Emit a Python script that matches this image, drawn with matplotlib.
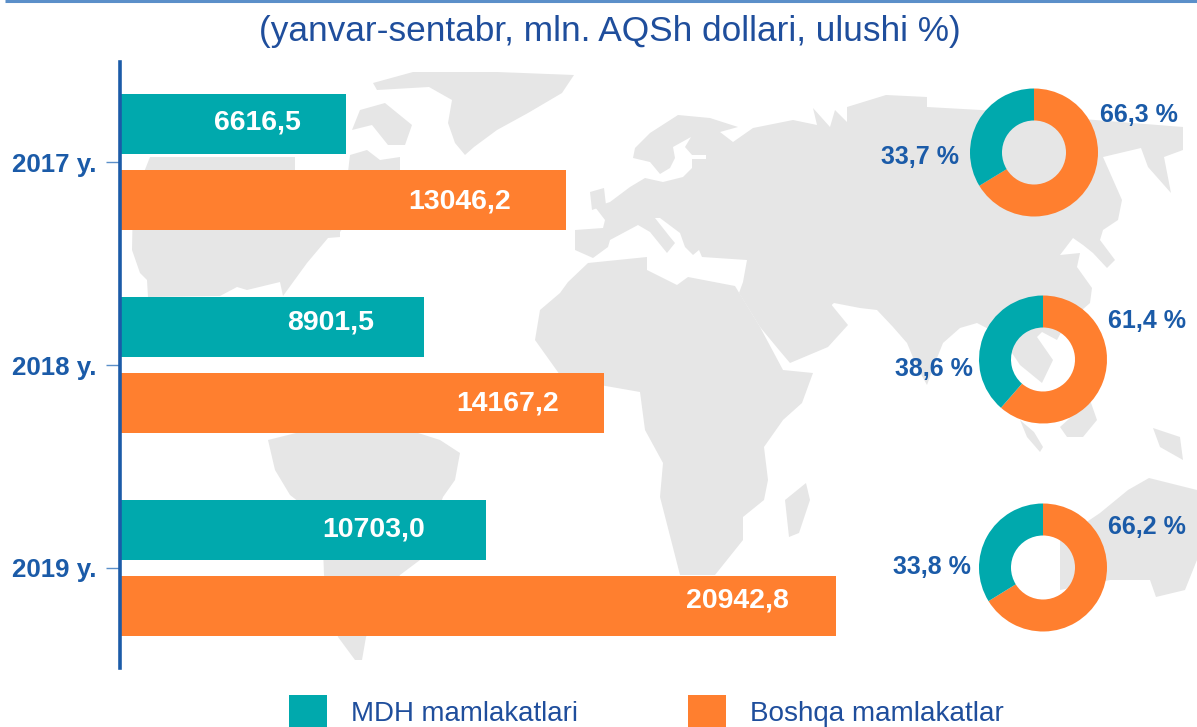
import matplotlib
matplotlib.use("Agg")
import matplotlib.pyplot as plt
from matplotlib.patches import Polygon, Rectangle

plt.rcParams['font.family'] = ['Liberation Sans', 'DejaVu Sans']

W, H = 1197, 727

# data
years = ["2017 y.", "2018 y.", "2019 y."]
cis_values = [6616.5, 8901.5, 10703.0]
other_values = [13046.2, 14167.2, 20942.8]
cis_labels = ["6616,5", "8901,5", "10703,0"]
other_labels = ["13046,2", "14167,2", "20942,8"]
cis_shares = [33.7, 38.6, 33.8]
other_shares = [66.3, 61.4, 66.2]
cis_share_labels = ["33,7 %", "38,6 %", "33,8 %"]
other_share_labels = ["66,3 %", "61,4 %", "66,2 %"]

TEAL = "#00A9AD"
ORANGE = "#FF7F2F"
BLUE = "#1B5BA8"
TITLE_BLUE = "#1F4E9C"
GRAY = "#E6E6E6"

# background map outlines, in picture pixels (decoration only)
world_map = [
    # Greenland
    [(373, 83), (413, 72), (497, 72), (574, 75), (562, 93), (528, 113), (497, 130), (474, 147),
     (465, 155), (455, 143), (448, 123), (452, 100), (429, 87), (377, 90)],
    # Baffin
    [(360, 110), (385, 103), (412, 125), (405, 145), (388, 145), (372, 125), (352, 130)],
    # North America
    [(150, 157), (295, 157), (295, 172), (348, 172), (350, 155), (367, 150), (380, 160), (400, 157),
     (400, 172), (360, 205), (340, 232), (340, 237), (328, 238), (307, 263), (283, 296), (280, 282),
     (247, 290), (237, 287), (220, 296), (148, 297), (147, 280), (140, 273), (132, 250), (133, 200)],
    # South America
    [(268, 440), (300, 432), (415, 432), (440, 440), (460, 453), (455, 480), (443, 497), (420, 560),
     (400, 575), (366, 637), (362, 660), (355, 660), (338, 637), (324, 575), (322, 520), (290, 495),
     (275, 470)],
    # Africa
    [(588, 263), (647, 257), (647, 270), (677, 285), (688, 277), (735, 286), (760, 327), (783, 370),
     (813, 373), (802, 403), (783, 420), (764, 447), (768, 480), (764, 500), (743, 517), (743, 540),
     (715, 575), (680, 575), (660, 497), (663, 463), (645, 430), (640, 392), (600, 385), (560, 375),
     (535, 340), (540, 310), (560, 293), (568, 282)],
    # Madagascar
    [(789, 537), (785, 500), (806, 483), (810, 500), (799, 533)],
    # Eurasia
    [(575, 230), (603, 228), (605, 220), (595, 207), (610, 202), (630, 187), (645, 178), (663, 182),
     (683, 177), (692, 168), (692, 159), (706, 159), (706, 155), (692, 155), (685, 147), (691, 137),
     (673, 147), (675, 158), (670, 168), (660, 174), (650, 162), (633, 158), (635, 148), (650, 133),
     (678, 115), (710, 118), (738, 127), (720, 132), (733, 142), (753, 128), (793, 120), (817, 125),
     (813, 108), (830, 127), (835, 110), (847, 122), (847, 107), (886, 95), (927, 97), (927, 107),
     (981, 110), (1095, 120), (1183, 127), (1183, 150), (1164, 157), (1171, 193), (1148, 167),
     (1141, 148), (1103, 157), (1122, 200), (1118, 220), (1103, 230), (1100, 240), (1115, 260),
     (1107, 268), (1093, 253), (1083, 245), (1073, 238), (1060, 255), (1080, 253), (1077, 267),
     (1092, 288), (1090, 303), (1065, 325), (1057, 340), (1042, 332), (1037, 337), (1053, 360),
     (1042, 383), (1020, 365), (1000, 335), (977, 323), (960, 328), (943, 343), (935, 363), (927, 385),
     (917, 367), (907, 343), (893, 327), (877, 310), (860, 308), (834, 303), (817, 317), (809, 310),
     (802, 287), (830, 303), (848, 325), (828, 347), (790, 363), (779, 350), (760, 327), (739, 293),
     (743, 282), (747, 260), (702, 257), (699, 250), (693, 255), (685, 247), (680, 233), (660, 218),
     (655, 218), (670, 237), (675, 243), (667, 253), (650, 232), (638, 225), (610, 240), (608, 247),
     (593, 258), (575, 250)],
    # Britain
    [(590, 192), (604, 188), (606, 205), (592, 210)],
    # Sumatra and islands
    [(1020, 420), (1034, 432), (1043, 447), (1040, 452), (1027, 437)],
    [(1060, 427), (1090, 400), (1097, 420), (1083, 437), (1067, 437)],
    [(1153, 428), (1180, 437), (1183, 460), (1160, 447)],
    # Australia
    [(1060, 540), (1100, 513), (1128, 490), (1149, 478), (1197, 490), (1197, 560), (1185, 590),
     (1156, 597), (1150, 580), (1110, 580), (1060, 590)],
]

bar_offsets_cis = [(-45, 2), (-50, 5), (-61, 1)]
bar_offsets_other = [(-55, -2), (-45, -1), (-47, 5)]
donut_centers = [(1034, 152.5), (1043, 359.5), (1043, 567.5)]
other_label_pos = [(1139, 115), (1147, 321), (1147, 527)]
cis_label_pos = [(920, 157), (934, 369), (932, 567)]
DONUT_R = 64

fig = plt.figure(figsize=(W / 100, H / 100), dpi=100, facecolor="white")

# Map and decoration layer, in pixels ---------------------------------
ax_bg = fig.add_axes([0, 0, 1, 1], zorder=0)
ax_bg.set_xlim(0, W)
ax_bg.set_ylim(H, 0)
ax_bg.axis("off")
for outline in world_map:
    ax_bg.add_patch(Polygon(outline, closed=True, facecolor=GRAY, edgecolor="none"))
ax_bg.plot([5, W], [1, 1], color="#5B8FC9", lw=2.2, solid_capstyle="butt")

# Bars ----------------------------------------------------------------
axis_left, axis_top, axis_bottom = 119.5, 62, 668
ax = fig.add_axes([axis_left / W, 1 - axis_bottom / H, (W - axis_left) / W, (axis_bottom - axis_top) / H], zorder=1)
ax.patch.set_alpha(0)
ax.set_xlim(0, (W - axis_left) / 0.03422)
ax.set_ylim(2.493, -0.493)
positions = range(len(years))
offset = 0.186
height = 0.2956
ax.barh([p - offset for p in positions], cis_values, height=height, color=TEAL)
ax.barh([p + offset for p in positions], other_values, height=height, color=ORANGE)

for i in positions:
    ax.annotate(cis_labels[i], (cis_values[i], i - offset), xytext=(bar_offsets_cis[i][0] * 0.72, bar_offsets_cis[i][1] * 0.72),
                textcoords="offset points", ha="right", va="center", color="white", fontsize=20.5, fontweight="bold")
    ax.annotate(other_labels[i], (other_values[i], i + offset), xytext=(bar_offsets_other[i][0] * 0.72, bar_offsets_other[i][1] * 0.72),
                textcoords="offset points", ha="right", va="center", color="white", fontsize=20.5, fontweight="bold")

for side in ["top", "right", "bottom"]:
    ax.spines[side].set_visible(False)
ax.spines["left"].set_color(BLUE)
ax.spines["left"].set_linewidth(2.6)
ax.set_xticks([])
ax.set_yticks(list(positions))
ax.set_yticklabels(years, color=BLUE, fontsize=18.6, fontweight="bold")
ax.tick_params(axis="y", length=10, width=1, color="#5B8FC9", pad=6.5)

# Donuts --------------------------------------------------------------
for i, (cx, cy) in enumerate(donut_centers):
    ax_d = fig.add_axes([(cx - DONUT_R) / W, 1 - (cy + DONUT_R) / H, 2 * DONUT_R / W, 2 * DONUT_R / H], zorder=2)
    ax_d.pie([other_shares[i], cis_shares[i]], colors=[ORANGE, TEAL], startangle=90, counterclock=False,
             radius=1, wedgeprops={"width": 0.5, "linewidth": 0})
    ax_d.set_xlim(-1, 1)
    ax_d.set_ylim(-1, 1)
    fig.text(other_label_pos[i][0] / W, 1 - other_label_pos[i][1] / H, other_share_labels[i], color=BLUE,
             fontsize=18, fontweight="bold", ha="center", va="center")
    fig.text(cis_label_pos[i][0] / W, 1 - cis_label_pos[i][1] / H, cis_share_labels[i], color=BLUE,
             fontsize=18, fontweight="bold", ha="center", va="center")

# Title and legend ----------------------------------------------------
fig.text(610 / W, 1 - 32 / H, "(yanvar-sentabr, mln. AQSh dollari, ulushi %)", color=TITLE_BLUE,
         fontsize=25.4, ha="center", va="center")

ax_bg.add_patch(Rectangle((289, 695), 38, 32, facecolor=TEAL, edgecolor="none"))
ax_bg.add_patch(Rectangle((688, 695), 38, 32, facecolor=ORANGE, edgecolor="none"))
ax_bg.text(351, 714, "MDH mamlakatlari", color=TITLE_BLUE, fontsize=19.9, va="center", ha="left")
ax_bg.text(750, 714, "Boshqa mamlakatlar", color=TITLE_BLUE, fontsize=20.1, va="center", ha="left")

fig.savefig("out.png", dpi=100)
